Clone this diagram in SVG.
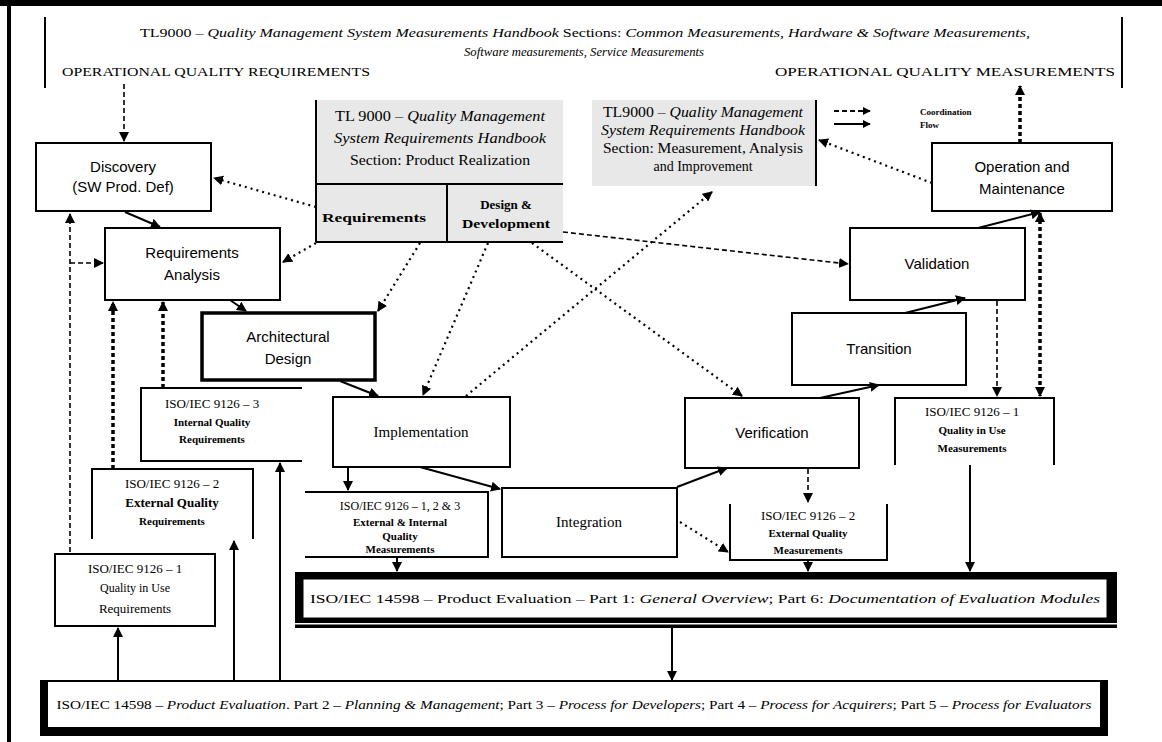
<svg xmlns="http://www.w3.org/2000/svg" width="1162" height="742" viewBox="0 0 1162 742">
<style>
.bg{fill:#fff}
.box{fill:#fff;stroke:#000;stroke-width:2}
.tbox{fill:#fff;stroke:#000;stroke-width:3.5}
.gray{fill:#e8e8e8;stroke:none}
.ln{stroke:#000;stroke-width:2;fill:none}
.sans{font-family:"Liberation Sans",Arial,sans-serif;font-size:15px;text-anchor:middle;fill:#000}
.ser{font-family:"Liberation Serif","Times New Roman",serif;text-anchor:middle;fill:#000}
.s15{font-size:15px}
.s14{font-size:14px}
.s13{font-size:13px}
.s12{font-size:12px}
.s11{font-size:11px;font-weight:bold}
.b{font-weight:bold}
.i{font-style:italic}
.c{stroke:#000;fill:none;stroke-width:2;marker-end:url(#ah)}
.dash{stroke-dasharray:5 3;stroke-width:1.6}
.dot{stroke-dasharray:2 4;stroke-width:2.2}
.hdot{stroke-dasharray:4 3;stroke-width:3.5}
.both{marker-start:url(#ah)}
</style>
<defs>
<marker id="ah" viewBox="0 0 10 10" refX="9" refY="5" markerWidth="10" markerHeight="10" markerUnits="userSpaceOnUse" orient="auto-start-reverse"><path d="M0,0 L10,5 L0,10 z" fill="#000"/></marker>
<marker id="ahs" viewBox="0 0 10 10" refX="9" refY="5" markerWidth="8" markerHeight="8" markerUnits="userSpaceOnUse" orient="auto"><path d="M0,0 L10,5 L0,10 z" fill="#000"/></marker>
</defs>
<rect class="bg" x="0" y="0" width="1162" height="742"/>
<g id="frame">
<rect x="0" y="0" width="1162" height="6" fill="#000"/>
<rect x="7" y="0" width="4" height="742" fill="#000"/>
</g>
<g id="header">
<line class="ln" x1="45" y1="17" x2="45" y2="88" stroke-width="2.5"/>
<line class="ln" x1="1122" y1="17" x2="1122" y2="88" stroke-width="2.5"/>
<text class="ser s13" x="585" y="37" textLength="890" lengthAdjust="spacingAndGlyphs">TL9000 – <tspan class="i">Quality Management System Measurements Handbook</tspan> Sections: <tspan class="i">Common Measurements, Hardware &amp; Software Measurements,</tspan></text>
<text class="ser s13 i" x="584" y="56" textLength="240" lengthAdjust="spacingAndGlyphs">Software measurements, Service Measurements</text>
<text class="ser s13" x="62" y="76" style="text-anchor:start" textLength="308" lengthAdjust="spacingAndGlyphs">OPERATIONAL QUALITY REQUIREMENTS</text>
<text class="ser s13" x="775" y="76" style="text-anchor:start" textLength="340" lengthAdjust="spacingAndGlyphs">OPERATIONAL QUALITY MEASUREMENTS</text>
</g>
<g id="tl9000-realization">
<rect class="gray" x="316" y="100" width="247" height="142"/>
<line class="ln" x1="316" y1="100" x2="316" y2="242" stroke-width="2.5"/>
<line class="ln" x1="316" y1="184" x2="563" y2="184"/>
<line class="ln" x1="447" y1="184" x2="447" y2="242"/>
<line class="ln" x1="316" y1="242" x2="563" y2="242"/>
<text class="ser s14" x="440" y="121" textLength="210" lengthAdjust="spacingAndGlyphs">TL 9000 – <tspan class="i">Quality Management</tspan></text>
<text class="ser s14 i" x="440" y="143" textLength="212" lengthAdjust="spacingAndGlyphs">System Requirements Handbook</text>
<text class="ser s14" x="440" y="165" textLength="180" lengthAdjust="spacingAndGlyphs">Section: Product Realization</text>
<text class="ser s13 b" x="374" y="222" textLength="104" lengthAdjust="spacingAndGlyphs">Requirements</text>
<text class="ser s13 b" x="506" y="209">Design &amp;</text>
<text class="ser s13 b" x="506" y="228" textLength="88" lengthAdjust="spacingAndGlyphs">Development</text>
</g>
<g id="tl9000-measurement">
<rect class="gray" x="592" y="100" width="223" height="86"/>
<line class="ln" x1="816" y1="100" x2="816" y2="186"/>
<text class="ser s14" x="703" y="117" textLength="200" lengthAdjust="spacingAndGlyphs">TL9000 – <tspan class="i">Quality Management</tspan></text>
<text class="ser s14 i" x="703" y="135" textLength="204" lengthAdjust="spacingAndGlyphs">System Requirements Handbook</text>
<text class="ser s14" x="703" y="153" textLength="200" lengthAdjust="spacingAndGlyphs">Section: Measurement, Analysis</text>
<text class="ser s14" x="703" y="171">and Improvement</text>
</g>
<g id="legend">
<line class="ln" x1="834" y1="111" x2="870" y2="111" stroke-width="1.5" stroke-dasharray="5 3" marker-end="url(#ahs)"/>
<line class="ln" x1="834" y1="124" x2="870" y2="124" stroke-width="1.5" marker-end="url(#ahs)"/>
<text class="ser b" x="920" y="115" style="text-anchor:start;font-size:9px">Coordination</text>
<text class="ser b" x="920" y="128" style="text-anchor:start;font-size:9px">Flow</text>
</g>
<g id="discovery">
<rect class="box" x="36" y="143" width="175" height="68"/>
<text class="sans" x="123" y="172">Discovery</text>
<text class="sans" x="123" y="192">(SW Prod. Def)</text>
</g>
<g id="requirements-analysis">
<rect class="box" x="105" y="228" width="175" height="72"/>
<text class="sans" x="192" y="258">Requirements</text>
<text class="sans" x="192" y="280">Analysis</text>
</g>
<g id="architectural-design">
<rect class="tbox" x="202" y="313" width="173" height="67"/>
<text class="sans" x="288" y="342">Architectural</text>
<text class="sans" x="288" y="364">Design</text>
</g>
<g id="implementation">
<rect class="box" x="333" y="397" width="177" height="70"/>
<text class="ser s15" x="421" y="437">Implementation</text>
</g>
<g id="integration">
<rect class="box" x="502" y="488" width="175" height="69"/>
<line class="ln" x1="502" y1="487" x2="502" y2="558" stroke-width="4"/>
<text class="ser s15" x="589" y="527">Integration</text>
</g>
<g id="verification">
<rect class="box" x="685" y="398" width="174" height="70"/>
<text class="sans" x="772" y="438">Verification</text>
</g>
<g id="transition">
<rect class="box" x="792" y="313" width="174" height="72"/>
<text class="sans" x="879" y="354">Transition</text>
</g>
<g id="validation">
<rect class="box" x="850" y="228" width="175" height="72"/>
<text class="sans" x="937" y="269">Validation</text>
</g>
<g id="operation-maintenance">
<rect class="box" x="932" y="143" width="180" height="68"/>
<text class="sans" x="1022" y="172">Operation and</text>
<text class="sans" x="1022" y="194">Maintenance</text>
</g>
<g id="iso9126-3-req">
<path class="ln" d="M302,388 H141 V461 H302"/>
<text class="ser s13" x="212" y="408">ISO/IEC 9126 – 3</text>
<text class="ser s11" x="212" y="426">Internal Quality</text>
<text class="ser s11" x="212" y="443">Requirements</text>
</g>
<g id="iso9126-2-req">
<path class="ln" d="M92,539 V469 H253 V539"/>
<text class="ser s13" x="172" y="488">ISO/IEC 9126 – 2</text>
<text class="ser s13 b" x="172" y="507">External Quality</text>
<text class="ser s11" x="172" y="525">Requirements</text>
</g>
<g id="iso9126-1-req">
<rect class="box" x="55" y="554" width="160" height="72"/>
<text class="ser s13" x="135" y="573">ISO/IEC 9126 – 1</text>
<text class="ser s12" x="135" y="592">Quality in Use</text>
<text class="ser s13" x="135" y="613">Requirements</text>
</g>
<g id="iso9126-123-meas">
<path class="ln" d="M305,492 H488 V557 H305"/>
<text class="ser s12" x="400" y="510">ISO/IEC 9126 – 1, 2 &amp; 3</text>
<text class="ser s11" x="400" y="526">External &amp; Internal</text>
<text class="ser s11" x="400" y="540">Quality</text>
<text class="ser s11" x="400" y="553">Measurements</text>
</g>
<g id="iso9126-2-meas">
<path class="ln" d="M730,504 V560 H887 V504"/>
<text class="ser s13" x="808" y="520">ISO/IEC 9126 – 2</text>
<text class="ser s11" x="808" y="537">External Quality</text>
<text class="ser s11" x="808" y="554">Measurements</text>
</g>
<g id="iso9126-1-meas">
<path class="ln" d="M895,465 V398 H1054 V465" stroke-width="2.5"/>
<text class="ser s13" x="972" y="416">ISO/IEC 9126 – 1</text>
<text class="ser s11" x="972" y="434">Quality in Use</text>
<text class="ser s11" x="972" y="452">Measurements</text>
</g>
<g id="iso14598-1">
<rect x="295" y="572" width="822" height="56" fill="#000"/>
<rect x="303" y="579" width="804" height="39" fill="#fff" stroke="#000" stroke-width="1"/>
<rect x="295" y="623" width="822" height="1.5" fill="#fff"/>
<text class="ser s13" x="705" y="603" textLength="790" lengthAdjust="spacingAndGlyphs">ISO/IEC 14598 – Product Evaluation – Part 1: <tspan class="i">General Overview</tspan>; Part 6: <tspan class="i">Documentation of Evaluation Modules</tspan></text>
</g>
<g id="iso14598-bottom">
<rect x="40" y="680" width="1068" height="56" fill="#000"/>
<rect x="48" y="682" width="1052" height="45" fill="#fff"/>
<text class="ser s12" x="574" y="709" textLength="1035" lengthAdjust="spacingAndGlyphs">ISO/IEC 14598 – <tspan class="i">Product Evaluation</tspan>. Part 2 – <tspan class="i">Planning &amp; Management</tspan>; Part 3 – <tspan class="i">Process for Developers</tspan>; Part 4 – <tspan class="i">Process for Acquirers</tspan>; Part 5 – <tspan class="i">Process for Evaluators</tspan></text>
</g>
<g id="connectors">
<path class="c dash" d="M124,84 L124,141"/>
<path class="c dot" d="M316,207 L214,178"/>
<path class="c dot" d="M316,243 L283,262"/>
<path class="c" d="M125,212 L160,227"/>
<path class="c dash" d="M70,552 L70,214"/>
<path class="c dash" d="M70,263 L103,263"/>
<path class="c hdot" d="M113,469 L113,302"/>
<path class="c hdot" d="M163,388 L163,302"/>
<path class="c" d="M230,300 L246,311"/>
<path class="c dot" d="M420,243 L378,311"/>
<path class="c dot" d="M488,243 L423,395"/>
<path class="c dot" d="M532,243 L742,396"/>
<path class="c dash" d="M563,232 L848,264"/>
<path class="c dot" d="M466,396 L712,192"/>
<path class="c dot" d="M932,183 L819,140"/>
<path class="c" d="M340,381 L378,396"/>
<path class="c" d="M420,467 L500,489"/>
<path class="c" d="M348,467 L348,490"/>
<path class="c" d="M677,487 L727,468"/>
<path class="c dot" d="M680,522 L728,552"/>
<path class="c dash" d="M808,469 L808,502"/>
<path class="c" d="M820,398 L879,385"/>
<path class="c" d="M905,313 L965,298"/>
<path class="c" d="M978,228 L1040,212"/>
<path class="c dash" d="M997,301 L997,396"/>
<path class="c hdot both" d="M1040,213 L1040,396"/>
<path class="c hdot" d="M1020,143 L1020,86"/>
<path class="c" d="M397,557 L397,571"/>
<path class="c" d="M808,560 L808,571"/>
<path class="c" d="M970,465 L970,571"/>
<path class="c" d="M672,628 L672,680"/>
<path class="c" d="M118,680 L118,628" stroke-width="3.5"/>
<path class="c" d="M234,680 L234,541"/>
<path class="c" d="M280,680 L280,463"/>
</g>
</svg>
